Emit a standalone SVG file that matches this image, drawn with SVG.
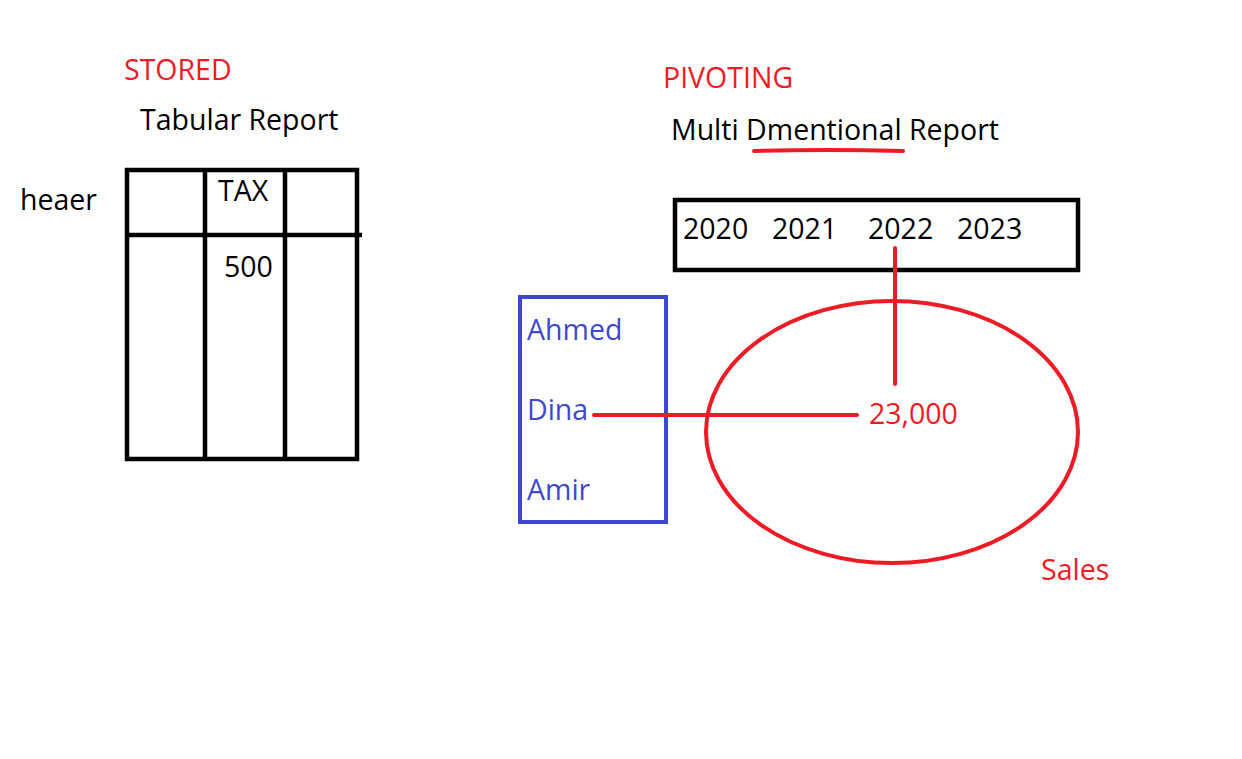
<svg xmlns="http://www.w3.org/2000/svg" width="1242" height="759" viewBox="0 0 1242 759">
<style>
text{font-family:"Open Sans","Noto Sans","Liberation Sans",sans-serif;font-size:28.5px}
.k{fill:#000}.r{fill:#ED1C24}.b{fill:#3F48CC}
.ks{stroke:#000;stroke-width:4.5;fill:none}
.rs{stroke:#ED1C24;stroke-width:4;fill:none;stroke-linecap:round}
</style>
<rect width="1242" height="759" fill="#fff"/>
<g id="titles">
<text class="r" x="124" y="80">STORED</text>
<text class="k" x="140" y="130">Tabular Report</text>
<text class="k" x="20" y="210">heaer</text>
<text class="r" x="663" y="88">PIVOTING</text>
<text class="k" x="671" y="140">Multi Dmentional Report</text>
<path class="rs" d="M754 151 Q828 149 903 151"/>
<text class="r" x="1041" y="580">Sales</text>
</g>
<g id="table">
<rect class="ks" x="127" y="170" width="230" height="289"/>
<line class="ks" x1="127" y1="235" x2="362" y2="235"/>
<line class="ks" x1="205" y1="170" x2="205" y2="459"/>
<line class="ks" x1="285" y1="170" x2="285" y2="459"/>
<text class="k" x="218" y="201">TAX</text>
<text class="k" x="224" y="277">500</text>
</g>
<g id="years">
<rect class="ks" x="675" y="200" width="403" height="70"/>
<text class="k" x="683" y="239">2020</text>
<text class="k" x="772" y="239">2021</text>
<text class="k" x="868" y="239">2022</text>
<text class="k" x="957" y="239">2023</text>
</g>
<g id="names">
<rect x="520" y="297" width="146" height="225" fill="none" stroke="#3F48CC" stroke-width="4"/>
<text class="b" x="527" y="340">Ahmed</text>
<text class="b" x="527" y="420">Dina</text>
<text class="b" x="527" y="500">Amir</text>
</g>
<g id="sales">
<ellipse class="rs" cx="892" cy="432" rx="186" ry="131"/>
<text class="r" x="869" y="424">23,000</text>
</g>
<g id="connectors">
<line class="rs" x1="895" y1="248" x2="895" y2="384"/>
<line class="rs" x1="594" y1="415" x2="857" y2="415"/>
</g>
</svg>
